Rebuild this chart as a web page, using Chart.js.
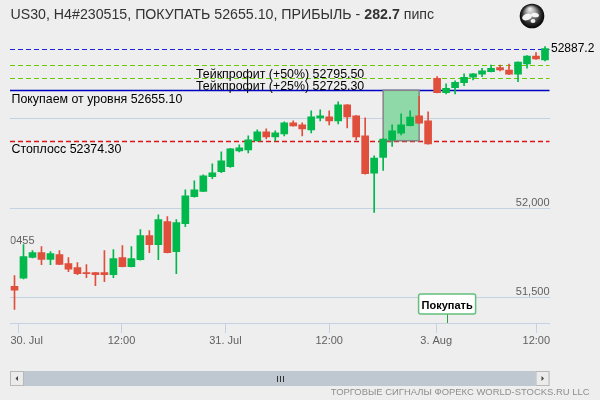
<!DOCTYPE html>
<html>
<head>
<meta charset="utf-8">
<script src="https://cdn.jsdelivr.net/npm/chart.js@4.4.0/dist/chart.umd.min.js"></script>
<style>
  html, body { margin: 0; padding: 0; background: #eeeeee; }
  canvas { display: block; }
</style>
</head>
<body>
<canvas id="myChart" width="600" height="400"></canvas>
<script>
// hourly candles, 30 Jul - 3 Aug
const opens  = [51564.4, 51608.9, 51725.5, 51751.7, 51714.4, 51740.6, 51690.5, 51668.2, 51640.5, 51640.5,
                51640.5, 51629.4, 51723.9, 51673.9, 51712.8, 51846.1, 51796.1, 51923.8, 51757.2, 51912.7,
                52062.7, 52092.2, 52173.8, 52201.6, 52229.4, 52318.3, 52323.8, 52373.8, 52423.9, 52396.0,
                52412.7, 52473.8, 52462.7, 52435.0, 52501.6, 52507.2, 52485.0, 52573.8, 52512.7, 52401.6,
                52194.4, 52281.1, 52379.4, 52416.7, 52458.9, 52512.7, 52485.0, 52722.2, 52642.2, 52670.0,
                52697.8, 52727.8, 52744.4, 52758.9, 52781.1, 52768.3, 52744.4, 52801.6, 52846.1, 52823.9];
const highs  = [51623.9, 51796.1, 51762.8, 51785.0, 51757.2, 51762.8, 51723.9, 51696.1, 51685.0, 51640.5,
                51762.8, 51768.3, 51790.5, 51785.0, 51879.4, 51873.9, 51962.7, 51951.6, 51934.9, 52101.6,
                52151.6, 52185.0, 52246.1, 52312.7, 52332.0, 52351.6, 52401.6, 52435.0, 52440.5, 52429.4,
                52479.4, 52485.0, 52473.8, 52540.5, 52546.0, 52540.5, 52590.5, 52576.0, 52515.0, 52501.6,
                52290.5, 52385.0, 52462.7, 52523.9, 52540.5, 52620.0, 52535.0, 52731.1, 52690.5, 52707.2,
                52746.1, 52748.0, 52777.8, 52796.1, 52796.1, 52801.6, 52814.0, 52848.0, 52864.4, 52897.8];
const lows   = [51435.0, 51605.0, 51722.0, 51685.0, 51685.0, 51684.0, 51646.1, 51629.4, 51612.7, 51568.3,
                51590.5, 51612.7, 51672.0, 51672.0, 51710.0, 51751.7, 51712.8, 51750.0, 51634.9, 51896.1,
                52061.0, 52090.5, 52162.7, 52196.0, 52226.0, 52312.7, 52307.2, 52372.0, 52385.0, 52373.8,
                52401.6, 52455.0, 52401.6, 52418.3, 52485.0, 52462.7, 52468.3, 52446.1, 52379.4, 52188.0,
                51975.6, 52208.9, 52342.2, 52407.2, 52457.0, 52470.0, 52355.0, 52640.0, 52635.0, 52635.0,
                52681.1, 52712.8, 52731.1, 52757.0, 52762.8, 52742.0, 52703.3, 52777.8, 52827.0, 52818.3];
const closes = [51542.2, 51729.4, 51751.7, 51714.4, 51746.1, 51686.7, 51658.9, 51634.9, 51634.9, 51629.4,
                51629.4, 51718.3, 51673.9, 51718.3, 51846.1, 51796.1, 51934.9, 51751.7, 51918.3, 52068.3,
                52101.6, 52179.4, 52196.0, 52262.7, 52329.4, 52334.9, 52379.4, 52423.9, 52396.0, 52418.3,
                52473.8, 52457.2, 52440.5, 52507.2, 52512.7, 52485.0, 52573.8, 52507.2, 52396.0, 52190.5,
                52277.8, 52383.3, 52429.4, 52462.7, 52505.5, 52472.2, 52357.2, 52642.2, 52666.7, 52700.0,
                52727.8, 52746.1, 52762.8, 52777.8, 52768.3, 52744.4, 52812.7, 52846.1, 52829.4, 52887.2];

const tickPositions = [0.44, 11.9, 23.46, 35.0, 46.9, 58.03];
const tickLabels = ['30. Jul', '12:00', '31. Jul', '12:00', '3. Aug', '12:00'];
const gridValues = [51500, 52000, 52500];
const gridLabels = ['51,500', '52,000', ''];

const levels = [52887.2, 52795.5, 52725.3, 52655.1, 52374.3];
const levelLabels = ['', 'Тейкпрофит (+50%) 52795.50', 'Тейкпрофит (+25%) 52725.30',
                     'Покупаем от уровня 52655.10', 'Стоплосс 52374.30'];
const lastPrice = 52887.2;
const zoneStart = 41, zoneEnd = 45;
const zoneTop = 52655.1, zoneBottom = 52374.3;
const flagIndex = 48.2;
const flagText = 'Покупать';
const sideValue = 51800, sideText = '50455';

const GREEN = '#00b84c', RED = '#e04e3c', GRID = '#c4d2e2';
const FONT = '"Liberation Sans", Arial, sans-serif';

const levelStyles = [
  { color: '#2020e0', dash: [5, 3], width: 1, labelX: 0 },
  { color: '#66cc00', dash: [5, 3], width: 1, labelX: 196 },
  { color: '#66cc00', dash: [5, 3], width: 1, labelX: 196 },
  { color: '#0000c0', dash: [], width: 1.5, labelX: 11.5 },
  { color: '#dd1515', dash: [5, 3], width: 1.5, labelX: 11.5 }
];

const colors = closes.map((c, i) => c >= opens[i] ? GREEN : RED);

function drawGlobe(ctx, cx, cy, r) {
  ctx.save();
  ctx.beginPath();
  ctx.arc(cx, cy, r, 0, Math.PI * 2);
  const g = ctx.createRadialGradient(cx - 2, cy - 7, 1, cx, cy, r);
  g.addColorStop(0, '#e8e8e8');
  g.addColorStop(0.35, '#9a9a9a');
  g.addColorStop(0.75, '#2a2a2a');
  g.addColorStop(1, '#050505');
  ctx.fillStyle = g;
  ctx.fill();
  ctx.clip();
  ctx.fillStyle = 'rgba(250,250,250,0.95)';
  ctx.beginPath(); ctx.ellipse(cx - 5, cy + 1, 5, 3.2, -0.3, 0, Math.PI * 2); ctx.fill();
  ctx.beginPath(); ctx.ellipse(cx + 3, cy - 1, 4, 2.2, 0.2, 0, Math.PI * 2); ctx.fill();
  ctx.beginPath(); ctx.ellipse(cx + 1, cy + 5, 2.5, 2, 0, 0, Math.PI * 2); ctx.fill();
  ctx.restore();
}

const overlay = {
  id: 'overlay',
  beforeDraw(c) {
    const ctx = c.ctx;
    ctx.save();
    ctx.fillStyle = '#eeeeee';
    ctx.fillRect(0, 0, c.width, c.height);
    ctx.restore();
  },
  beforeDatasetsDraw(c) {
    const { ctx, chartArea: a, scales: { x, y } } = c;
    ctx.save();
    levels.forEach((v, i) => {
      const st = levelStyles[i];
      const py = Math.round(y.getPixelForValue(v)) + 0.5;
      ctx.strokeStyle = st.color;
      ctx.lineWidth = st.width;
      ctx.setLineDash(st.dash);
      ctx.beginPath();
      ctx.moveTo(a.left, py);
      ctx.lineTo(a.right, py);
      ctx.stroke();
    });
    ctx.setLineDash([]);
    const x1 = x.getPixelForValue(zoneStart), x2 = x.getPixelForValue(zoneEnd);
    const y1 = y.getPixelForValue(zoneTop), y2 = y.getPixelForValue(zoneBottom);
    ctx.fillStyle = '#8fd9a9';
    ctx.fillRect(x1, y1, x2 - x1, y2 - y1);
    ctx.strokeStyle = '#858585';
    ctx.lineWidth = 1.5;
    ctx.strokeRect(x1, y1, x2 - x1, y2 - y1);
    ctx.restore();
  },
  afterDatasetsDraw(c) {
    const { ctx, chartArea: a, scales: { x, y } } = c;
    ctx.save();
    // level captions
    ctx.font = '12.4px ' + FONT;
    ctx.fillStyle = '#000';
    ctx.textBaseline = 'alphabetic';
    levels.forEach((v, i) => {
      if (!levelLabels[i]) return;
      ctx.fillText(levelLabels[i], levelStyles[i].labelX, y.getPixelForValue(v) + 12.5);
    });
    // last price
    ctx.font = '12px ' + FONT;
    ctx.textBaseline = 'middle';
    ctx.fillText(String(lastPrice), a.right + 1.5, y.getPixelForValue(lastPrice));
    // y labels inside plot
    ctx.font = '11px ' + FONT;
    ctx.fillStyle = '#606060';
    ctx.textAlign = 'right';
    ctx.textBaseline = 'alphabetic';
    gridValues.forEach((v, i) => {
      if (gridLabels[i]) ctx.fillText(gridLabels[i], a.right, y.getPixelForValue(v) - 2.5);
    });
    // x labels, first one kept inside the plot
    ctx.textAlign = 'left';
    tickPositions.forEach((v, i) => {
      const w = ctx.measureText(tickLabels[i]).width;
      const lx = Math.max(x.getPixelForValue(v) - w / 2, a.left + 0.5);
      ctx.fillText(tickLabels[i], lx, a.bottom + 20.5);
    });
    // clipped left label
    ctx.textAlign = 'right';
    ctx.save();
    ctx.beginPath();
    ctx.rect(a.left + 0.5, a.top, 60, a.bottom - a.top);
    ctx.clip();
    ctx.fillText(sideText, 34.5, y.getPixelForValue(sideValue));
    ctx.restore();
    // flag
    const fx = x.getPixelForValue(flagIndex);
    ctx.strokeStyle = '#2e9e3e';
    ctx.lineWidth = 1;
    ctx.beginPath();
    ctx.moveTo(Math.round(fx) - 0.5, a.bottom - 9);
    ctx.lineTo(Math.round(fx) - 0.5, a.bottom);
    ctx.stroke();
    const bw = 57, bh = 20, bx = fx - bw / 2 - 0.8, by = a.bottom - 9 - bh;
    ctx.fillStyle = '#ffffff';
    ctx.strokeStyle = '#62c07c';
    ctx.lineWidth = 1.5;
    ctx.beginPath();
    ctx.roundRect(bx, by, bw, bh, 2);
    ctx.fill();
    ctx.stroke();
    ctx.fillStyle = '#000';
    ctx.font = 'bold 11px ' + FONT;
    ctx.textAlign = 'center';
    ctx.fillText(flagText, bx + bw / 2, by + 15);
    ctx.restore();
  },
  afterDraw(c) {
    const { ctx, chartArea: a } = c;
    ctx.save();
    // title
    ctx.fillStyle = '#333';
    ctx.textBaseline = 'alphabetic';
    let tx = 10.5;
    const parts = [['US30, H4#230515, ПОКУПАТЬ 52655.10, ПРИБЫЛЬ - ', ''], ['282.7', 'bold '], [' пипс', '']];
    parts.forEach(([t, w]) => {
      ctx.font = w + '14.2px ' + FONT;
      ctx.fillText(t, tx, 18.5);
      tx += ctx.measureText(t).width;
    });
    drawGlobe(ctx, 532, 16, 12.3);
    // scrollbar
    ctx.fillStyle = '#bfc7d1';
    ctx.fillRect(a.left, 371, a.right - a.left, 15);
    ctx.fillStyle = '#ebebeb';
    ctx.strokeStyle = '#b8b8b8';
    ctx.lineWidth = 1;
    [a.left, a.right - 14].forEach(bx => {
      ctx.fillRect(bx, 371, 14, 15);
      ctx.strokeRect(bx + 0.5, 371.5, 13, 14);
    });
    ctx.fillStyle = '#444';
    ctx.beginPath();
    ctx.moveTo(a.left + 5.5, 378.5); ctx.lineTo(a.left + 8, 376); ctx.lineTo(a.left + 8, 381); ctx.fill();
    ctx.beginPath();
    ctx.moveTo(a.right - 5.5, 378.5); ctx.lineTo(a.right - 8, 376); ctx.lineTo(a.right - 8, 381); ctx.fill();
    ctx.strokeStyle = '#333';
    const mid = (a.left + a.right) / 2;
    [-3, 0, 3].forEach(d => {
      ctx.beginPath();
      ctx.moveTo(Math.round(mid + d) + 0.5, 376);
      ctx.lineTo(Math.round(mid + d) + 0.5, 382);
      ctx.stroke();
    });
    // footer
    const foot = 'ТОРГОВЫЕ СИГНАЛЫ ФОРЕКС WORLD-STOCKS.RU LLC';
    ctx.font = '10px ' + FONT;
    const fs = 10 * 259 / ctx.measureText(foot).width;
    ctx.font = fs.toFixed(2) + 'px ' + FONT;
    ctx.fillStyle = '#8e8e8e';
    ctx.textAlign = 'right';
    ctx.fillText(foot, 589.5, 395);
    ctx.restore();
  }
};

new Chart(document.getElementById('myChart'), {
  type: 'bar',
  data: {
    datasets: [
      {
        label: 'body',
        data: opens.map((o, i) => ({ x: i, y: [o, closes[i]] })),
        backgroundColor: colors,
        barThickness: 7,
        minBarLength: 1,
        grouped: false
      },
      {
        label: 'wick',
        data: lows.map((l, i) => ({ x: i, y: [l, highs[i]] })),
        backgroundColor: colors,
        barThickness: 1,
        grouped: false
      }
    ]
  },
  options: {
    responsive: false,
    animation: false,
    devicePixelRatio: 1,
    layout: { padding: { left: 10, right: 50.5, top: 44.5, bottom: 0 } },
    plugins: { legend: { display: false }, tooltip: { enabled: false } },
    scales: {
      x: {
        type: 'linear',
        min: -0.5,
        max: 59.5,
        offset: false,
        grid: { offset: false, drawOnChartArea: false, drawTicks: true, tickLength: 10, color: GRID },
        border: { color: GRID },
        afterBuildTicks: s => { s.ticks = tickPositions.map(v => ({ value: v })); },
        afterFit: s => { s.height = 77; },
        ticks: { display: false, autoSkip: false, maxRotation: 0 }
      },
      y: {
        position: 'right',
        min: 51360,
        max: 52910,
        afterBuildTicks: s => { s.ticks = gridValues.map(v => ({ value: v })); },
        afterFit: s => { s.width = 0; },
        ticks: { display: false },
        border: { display: false },
        grid: { color: GRID, drawTicks: false }
      }
    }
  },
  plugins: [overlay]
});
</script>
</body>
</html>
